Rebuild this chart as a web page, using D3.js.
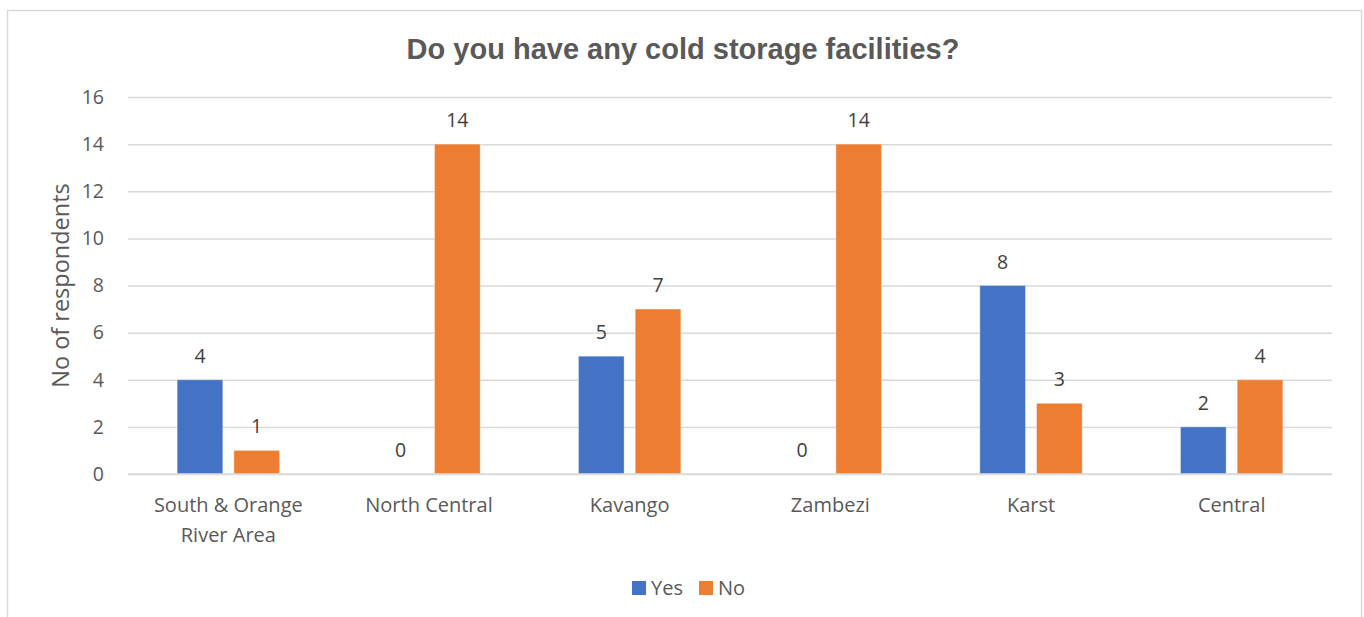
<!DOCTYPE html>
<html>
<head>
<meta charset="utf-8">
<script src="https://cdn.jsdelivr.net/npm/d3@7"></script>
<style>
  html, body { margin: 0; padding: 0; background: #fff; }
  svg { display: block; }
</style>
</head>
<body>
<svg id="chart" width="1364" height="617"></svg>
<script>
// Survey answers per region
const categories = ["South & Orange River Area", "North Central", "Kavango", "Zambezi", "Karst", "Central"];
const seriesNames = ["Yes", "No"];
const yesValues = [4, 0, 5, 0, 8, 2];
const noValues = [1, 14, 7, 14, 3, 4];
const yTicks = [0, 2, 4, 6, 8, 10, 12, 14, 16];
const colors = ["#4472C4", "#ED7D31"];

const svg = d3.select("#chart");
const font = "'Open Sans', sans-serif";

// Outer frame
svg.append("rect")
  .attr("x", 7.5).attr("y", 10.5)
  .attr("width", 1354).attr("height", 620)
  .attr("fill", "#fff").attr("stroke", "#d9d9d9").attr("stroke-width", 1.5);

const plot = { left: 128, right: 1332, top: 97, bottom: 474 };

const x0 = d3.scaleBand().domain(categories).range([plot.left, plot.right]).padding(0);
const inset = x0.bandwidth() * 0.245;
const x1 = d3.scaleBand().domain(seriesNames).range([inset, x0.bandwidth() - inset]).paddingInner(0.195);
const y = d3.scaleLinear().domain([0, 16]).range([plot.bottom, plot.top]);

// Title
svg.append("text")
  .attr("x", 683).attr("y", 59)
  .attr("text-anchor", "middle")
  .attr("font-family", "'Liberation Sans', Arial, sans-serif")
  .attr("font-weight", "bold")
  .attr("font-size", 29)
  .attr("fill", "#595959")
  .text("Do you have any cold storage facilities?");

// Gridlines and y ticks
const yAxis = d3.axisLeft(y).tickValues(yTicks).tickSize(-(plot.right - plot.left)).tickPadding(24);
const gy = svg.append("g").attr("transform", `translate(${plot.left},0)`).call(yAxis);
gy.select(".domain").remove();
gy.selectAll(".tick line").attr("stroke", "#d9d9d9").attr("stroke-width", 1.5);
gy.selectAll(".tick text")
  .attr("font-family", font).attr("font-size", 19.5).attr("fill", "#595959");

// Y axis title
svg.append("text")
  .attr("transform", `translate(69,${(plot.top + plot.bottom) / 2}) rotate(-90)`)
  .attr("text-anchor", "middle")
  .attr("font-family", font).attr("font-size", 23.5).attr("fill", "#595959")
  .text("No of respondents");

// Bars
const rows = categories.map((c, i) => ({ cat: c, vals: [yesValues[i], noValues[i]] }));
const groups = svg.append("g").selectAll("g").data(rows).join("g")
  .attr("transform", d => `translate(${x0(d.cat)},0)`);

groups.selectAll("rect").data(d => d.vals.map((v, j) => ({ key: seriesNames[j], v, j })))
  .join("rect")
  .attr("x", d => x1(d.key))
  .attr("y", d => y(d.v))
  .attr("width", x1.bandwidth())
  .attr("height", d => y(0) - y(d.v))
  .attr("fill", d => colors[d.j])
  .attr("stroke", "#fff").attr("stroke-opacity", 0.35).attr("stroke-width", 1);

// Data labels
groups.selectAll("text.lbl").data(d => d.vals.map((v, j) => ({ key: seriesNames[j], v, j })))
  .join("text")
  .attr("class", "lbl")
  .attr("x", d => x1(d.key) + x1.bandwidth() / 2)
  .attr("y", d => y(d.v) - 17)
  .attr("text-anchor", "middle")
  .attr("font-family", font).attr("font-size", 19.5).attr("fill", "#404040")
  .text(d => d.v);

// Baseline
svg.append("line")
  .attr("x1", plot.left).attr("x2", plot.right)
  .attr("y1", y(0)).attr("y2", y(0))
  .attr("stroke", "#d9d9d9").attr("stroke-width", 1.5);

// Category labels (wrapped)
const wrapLines = { "South & Orange River Area": ["South & Orange", "River Area"] };
const catLabels = svg.append("g").selectAll("text").data(categories).join("text")
  .attr("x", d => x0(d) + x0.bandwidth() / 2)
  .attr("y", 512)
  .attr("text-anchor", "middle")
  .attr("font-family", font).attr("font-size", 20).attr("fill", "#595959");
catLabels.each(function (d) {
  const lines = wrapLines[d] || [d];
  const t = d3.select(this);
  lines.forEach((ln, k) => {
    t.append("tspan").attr("x", x0(d) + x0.bandwidth() / 2).attr("dy", k === 0 ? 0 : 30).text(ln);
  });
});

// Legend
const legend = svg.append("g");
const legendItems = [{ name: "Yes", x: 632 }, { name: "No", x: 699 }];
legendItems.forEach((it, i) => {
  legend.append("rect").attr("x", it.x).attr("y", 581).attr("width", 14).attr("height", 14).attr("fill", colors[i]);
  legend.append("text").attr("x", it.x + 19).attr("y", 595)
    .attr("font-family", font).attr("font-size", 20).attr("fill", "#595959").text(it.name);
});
</script>
</body>
</html>
